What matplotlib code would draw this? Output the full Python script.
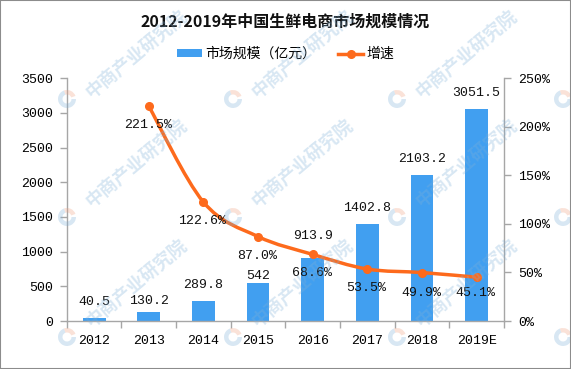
import matplotlib
matplotlib.use('Agg')
import matplotlib.pyplot as plt
from matplotlib.path import Path
from matplotlib.patches import PathPatch, Patch, Rectangle, Wedge
from matplotlib.lines import Line2D
from matplotlib.ticker import FuncFormatter
import numpy as np

plt.rcParams['font.family'] = ['Noto Sans CJK SC', 'DejaVu Sans']

years = ['2012', '2013', '2014', '2015', '2016', '2017', '2018', '2019E']
market_size = [40.5, 130.2, 289.8, 542, 913.9, 1402.8, 2103.2, 3051.5]
size_labels = ['40.5', '130.2', '289.8', '542', '913.9', '1402.8', '2103.2', '3051.5']
growth = [221.5, 122.6, 87.0, 68.6, 53.5, 49.9, 45.1]  # from 2013
growth_labels = ['221.5%', '122.6%', '87.0%', '68.6%', '53.5%', '49.9%', '45.1%']

BAR = '#419ff0'
LINE = '#fd6a1c'
AXC = '#a6a6a6'
NUMFONT = 'Liberation Mono'

W, H = 571, 369
fig = plt.figure(figsize=(W / 100, H / 100), dpi=100)

# watermark (logos everywhere, text only where it fits on the canvas)
wm_x = [-98, 67, 233, 397, 563]
wm_y = [-23, 99, 217, 337, 457]
for lx in wm_x:
    for ly in wm_y:
        if lx in (67, 233, 397) and ly in (99, 217, 337):
            cy = max(ly - 53, 55)
            fig.text((lx + 70) / W, 1 - cy / H, '中商产业研究院', rotation=40,
                     rotation_mode='anchor', ha='center', va='center', fontsize=13,
                     fontweight='bold', color='#7fb0d8', alpha=0.3, zorder=10)
        fig.patches.append(Wedge((lx, H - ly), 9, 110, 360, width=4.5, transform=None,
                                 fc='#7fb0d8', alpha=0.3, ec='none', zorder=10))
        fig.patches.append(Wedge((lx, H - ly), 9, 20, 110, width=4.5, transform=None,
                                 fc='#f0a080', alpha=0.3, ec='none', zorder=10))

ax = fig.add_axes([66.7 / W, 1 - 321 / H, (504 - 66.7) / W, (321 - 78.3) / H])
ax2 = ax.twinx()

x = np.arange(len(years))
ax.bar(x, market_size, width=0.42, color=BAR, zorder=2)

# bar value labels (pixel offsets above bar tops)
bar_off = [16, 11, 16, 7, 22, 16, 16, 16]
for xi, v, s, o in zip(x, market_size, size_labels, bar_off):
    ax.annotate(s, (xi, v), xytext=(0, o), textcoords='offset pixels',
                ha='center', va='center', fontsize=9.5, family=NUMFONT, color='#111111')

ax.set_xlim(-0.5, len(years) - 0.5)
ax.set_ylim(0, 3500)
ax.set_yticks(np.arange(0, 3501, 500))
ax.set_xticks(x)
ax.set_xticklabels(years, family=NUMFONT, fontsize=9.5)
ax.set_xticks(np.arange(-0.5, len(years)), minor=True)
ax.tick_params(axis='x', which='major', length=0, pad=10)
ax.tick_params(axis='x', which='minor', length=5, color=AXC, width=1)
ax.tick_params(axis='y', length=5, color=AXC, width=1, pad=5)
for lab in ax.get_yticklabels():
    lab.set_family(NUMFONT)
    lab.set_fontsize(9.5)

ax2.set_ylim(0, 250)
ax2.set_yticks(np.arange(0, 251, 50))
ax2.yaxis.set_major_formatter(FuncFormatter(lambda v, p: f'{v:.0f}%'))
ax2.tick_params(axis='y', length=5, color=AXC, width=1, pad=5)
for lab in ax2.get_yticklabels():
    lab.set_family(NUMFONT)
    lab.set_fontsize(9.5)

for a in (ax, ax2):
    a.spines['top'].set_visible(False)
    for s in ('left', 'right', 'bottom'):
        a.spines[s].set_color(AXC)
        a.spines[s].set_linewidth(1)
ax.spines['right'].set_visible(False)
ax2.spines['left'].set_visible(False)
ax2.spines['bottom'].set_visible(False)

# smoothed growth line (Catmull-Rom as cubic Bezier through the data points)
gx = x[1:].astype(float)
gy = np.array(growth, dtype=float)
pts = np.column_stack([gx, gy])
verts = [pts[0]]
codes = [Path.MOVETO]
n = len(pts)
for i in range(n - 1):
    p0 = pts[i - 1] if i > 0 else pts[i]
    p1, p2 = pts[i], pts[i + 1]
    p3 = pts[i + 2] if i + 2 < n else pts[i + 1]
    verts += [p1 + (p2 - p0) / 6, p2 - (p3 - p1) / 6, p2]
    codes += [Path.CURVE4] * 3
ax2.add_patch(PathPatch(Path(verts, codes), fill=False, ec=LINE, lw=2.5,
                        capstyle='round', joinstyle='round', zorder=3))
ax2.plot(gx, gy, linestyle='none', marker='o', ms=5.5, color=LINE, zorder=4)

g_off = [-19, -19, -19, -19, -19, -20, -16]
for xi, v, s, o in zip(gx, gy, growth_labels, g_off):
    ax2.annotate(s, (xi, v), xytext=(-1, o), textcoords='offset pixels',
                 ha='center', va='center', fontsize=9.5, family=NUMFONT, color='#111111')

fig.text(0.5, 1 - 21.7 / H, '2012-2019年中国生鲜电商市场规模情况', ha='center', va='center',
         fontsize=11.5, fontweight='bold', color='#111111')

handles = [Patch(facecolor=BAR, edgecolor='none'),
           Line2D([], [], color=LINE, lw=2.5, marker='o', ms=5.5)]
fig.legend(handles, ['市场规模（亿元）', '增速'], loc='center', bbox_to_anchor=(0.5, 1 - 54 / H),
           ncol=2, frameon=False, fontsize=10, handlelength=1.8, handleheight=0.5,
           handletextpad=0.25, columnspacing=1.6)

fig.patches.append(Rectangle((0, 0), 1, 1, transform=fig.transFigure, fill=False,
                             ec='#8c8c8c', lw=1.5, zorder=20))

fig.savefig('out.png', dpi=100)
